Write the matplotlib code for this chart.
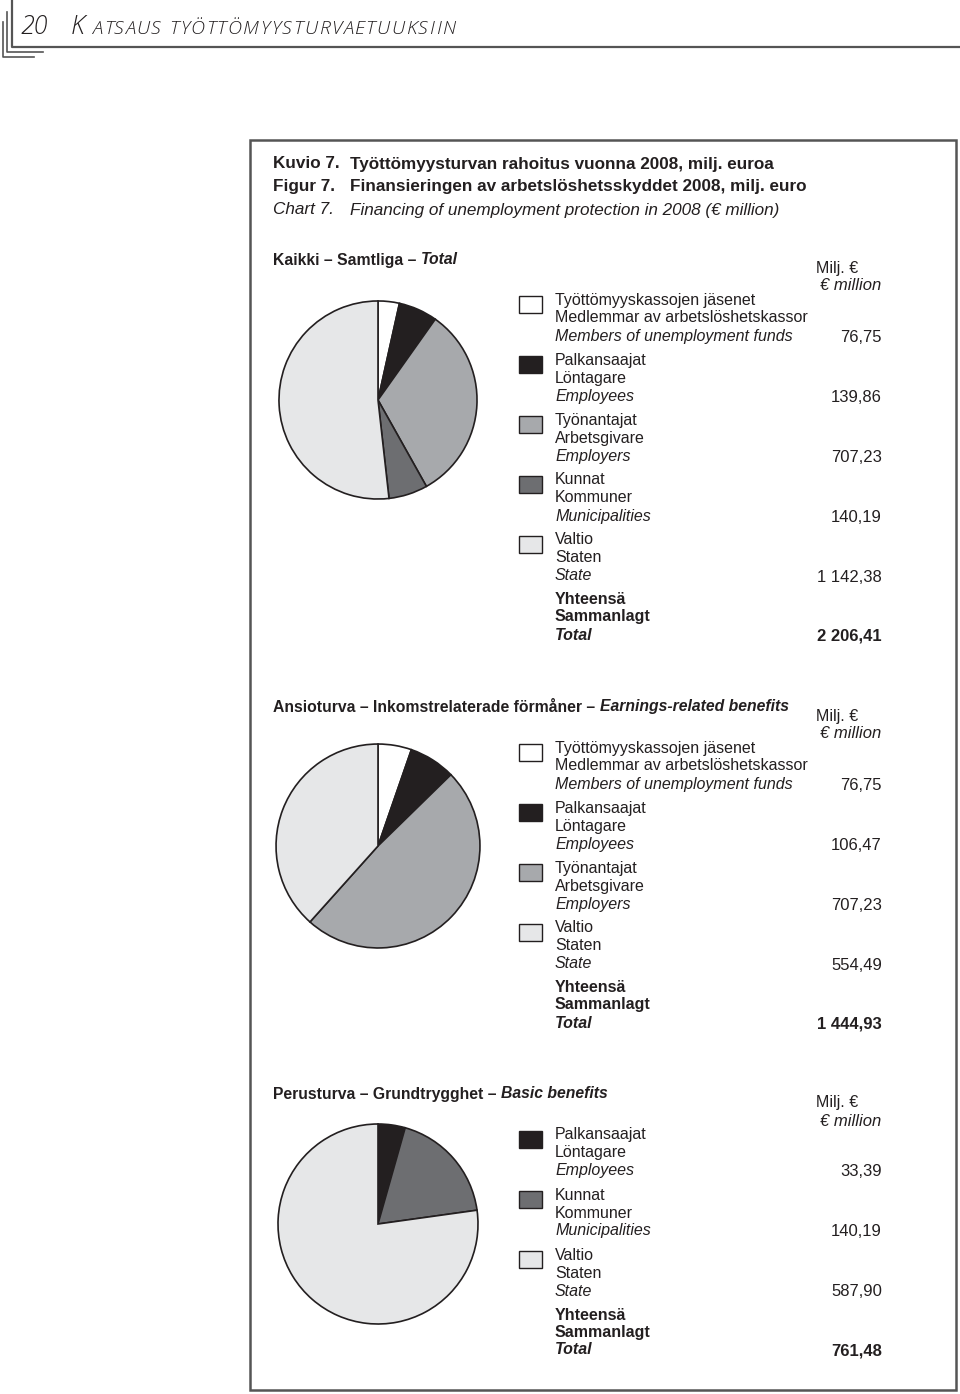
import matplotlib.pyplot as plt
from matplotlib.patches import Rectangle

plt.rcParams["font.family"] = ["Liberation Sans Narrow", "Liberation Sans", "DejaVu Sans"]

INK = "#231f20"
W, H = 960, 1394

# colours per group
c_members = "#ffffff"
c_employees = "#231f20"
c_employers = "#a7a9ac"
c_municip = "#6d6e71"
c_state = "#e6e7e8"

# --- data (milj. €) ---
total_labels = [
    ("Työttömyyskassojen jäsenet", "Medlemmar av arbetslöshetskassor", "Members of unemployment funds"),
    ("Palkansaajat", "Löntagare", "Employees"),
    ("Työnantajat", "Arbetsgivare", "Employers"),
    ("Kunnat", "Kommuner", "Municipalities"),
    ("Valtio", "Staten", "State"),
]
total_values = [76.75, 139.86, 707.23, 140.19, 1142.38]
total_colors = [c_members, c_employees, c_employers, c_municip, c_state]
total_sum = 2206.41

earn_labels = [
    ("Työttömyyskassojen jäsenet", "Medlemmar av arbetslöshetskassor", "Members of unemployment funds"),
    ("Palkansaajat", "Löntagare", "Employees"),
    ("Työnantajat", "Arbetsgivare", "Employers"),
    ("Valtio", "Staten", "State"),
]
earn_values = [76.75, 106.47, 707.23, 554.49]
earn_colors = [c_members, c_employees, c_employers, c_state]
earn_sum = 1444.93

basic_labels = [
    ("Palkansaajat", "Löntagare", "Employees"),
    ("Kunnat", "Kommuner", "Municipalities"),
    ("Valtio", "Staten", "State"),
]
basic_values = [33.39, 140.19, 587.90]
basic_colors = [c_employees, c_municip, c_state]
basic_sum = 761.48


def fmt(v):
    s = f"{v:,.2f}"
    return s.replace(",", " ").replace(".", ",")


fig = plt.figure(figsize=(W / 100, H / 100), dpi=100)
ax = fig.add_axes([0, 0, 1, 1])
ax.set_xlim(0, W)
ax.set_ylim(H, 0)
ax.axis("off")
renderer = fig.canvas.get_renderer()


def text_width(s, **kw):
    t = ax.text(0, 0, s, **kw)
    w = t.get_window_extent(renderer=renderer).width
    t.remove()
    return w


# page header
ax.plot([12, 12, W], [0, 47, 47], color="#555555", lw=1.6)
ax.plot([7, 7, 43], [12, 52, 52], color="#555555", lw=1.2)
ax.plot([3, 3, 34], [22, 57, 57], color="#555555", lw=1.2)
hdr = dict(style="italic", color=INK, va="center", family=["Open Sans", "DejaVu Sans"],
           fontweight="light")
ax.text(21, 27, "20", fontsize=18, **hdr)
ax.text(71, 27, "K", fontsize=18.5, **hdr)
caps = "ATSAUS TYÖTTÖMYYSTURVAETUUKSIIN"
caps_kw = dict(fontsize=14, **hdr)
x0, x1 = 92, 455
natural = text_width(caps, **caps_kw)
track = (x1 - x0 - natural) / (len(caps) - 1)
bar = text_width("|", **caps_kw)
for i, ch in enumerate(caps):
    if ch == " ":
        continue
    xi = x0 + (text_width(caps[:i] + "|", **caps_kw) - bar if i else 0) + track * i
    ax.text(xi, 29, ch, **caps_kw)

# frame
ax.add_patch(Rectangle((250, 140), 706, 1250, fill=False, ec="#555555", lw=1.8))

# figure title
ttl = [("Kuvio 7.", "Työttömyysturvan rahoitus vuonna 2008, milj. euroa", "bold", "normal"),
       ("Figur 7.", "Finansieringen av arbetslöshetsskyddet 2008, milj. euro", "bold", "normal"),
       ("Chart 7.", "Financing of unemployment protection in 2008 (€ million)", "normal", "italic")]
for i, (a, b, w, s) in enumerate(ttl):
    y = 164 + 23 * i
    ax.text(273, y, a, fontsize=12.3, fontweight=w, style=s, color=INK, va="center")
    ax.text(350, y, b, fontsize=12.3, fontweight=w, style=s, color=INK, va="center")


def section(title_parts, ty, pie_cy, pie_r, labels, values, colors, leg_top, total):
    x = 273
    for txt, st in title_parts:
        t = ax.text(x, ty, txt, fontsize=11.3, fontweight="bold", style=st, color=INK, va="center")
        x += t.get_window_extent(renderer=renderer).width
    # pie
    cx = 378
    pax = fig.add_axes([(cx - pie_r) / W, 1 - (pie_cy + pie_r) / H, 2 * pie_r / W, 2 * pie_r / H])
    pax.pie(values, colors=colors, startangle=90, counterclock=False,
            wedgeprops=dict(edgecolor=INK, linewidth=1.2))
    pax.set_xlim(-1.02, 1.02)
    pax.set_ylim(-1.02, 1.02)
    pax.set_aspect("equal")
    # units header
    ax.text(816, leg_top - 32, "Milj. €", fontsize=11.5, color=INK, va="center")
    ax.text(881, leg_top - 14, "€ million", fontsize=12, style="italic", color=INK,
            va="center", ha="right")
    # legend rows
    for i, (lab, v, c) in enumerate(zip(labels, values, colors)):
        y0 = leg_top + 60 * i
        ax.add_patch(Rectangle((519, y0 - 4), 23, 17, fc=c, ec=INK, lw=1.0))
        ax.text(555, y0, lab[0], fontsize=11.5, color=INK, va="center")
        ax.text(555, y0 + 18, lab[1], fontsize=11.5, color=INK, va="center")
        ax.text(555, y0 + 36, lab[2], fontsize=11.5, style="italic", color=INK, va="center")
        ax.text(882, y0 + 37, fmt(v), fontsize=12, color=INK, va="center", ha="right")
    y0 = leg_top + 60 * len(values)
    ax.text(555, y0, "Yhteensä", fontsize=11.5, fontweight="bold", color=INK, va="center")
    ax.text(555, y0 + 17, "Sammanlagt", fontsize=11.5, fontweight="bold", color=INK, va="center")
    ax.text(555, y0 + 35, "Total", fontsize=11.5, fontweight="bold", style="italic", color=INK, va="center")
    ax.text(882, y0 + 36, fmt(total), fontsize=12, fontweight="bold", color=INK,
            va="center", ha="right")


section([("Kaikki – Samtliga – ", "normal"), ("Total", "italic")], 260, 400, 101,
        total_labels, total_values, total_colors, 300, total_sum)
section([("Ansioturva – Inkomstrelaterade förmåner – ", "normal"), ("Earnings-related benefits", "italic")],
        707, 846, 104, earn_labels, earn_values, earn_colors, 748, earn_sum)
section([("Perusturva – Grundtrygghet – ", "normal"), ("Basic benefits", "italic")],
        1094, 1224, 102, basic_labels, basic_values, basic_colors, 1135, basic_sum)

fig.savefig("out.png", dpi=100)
